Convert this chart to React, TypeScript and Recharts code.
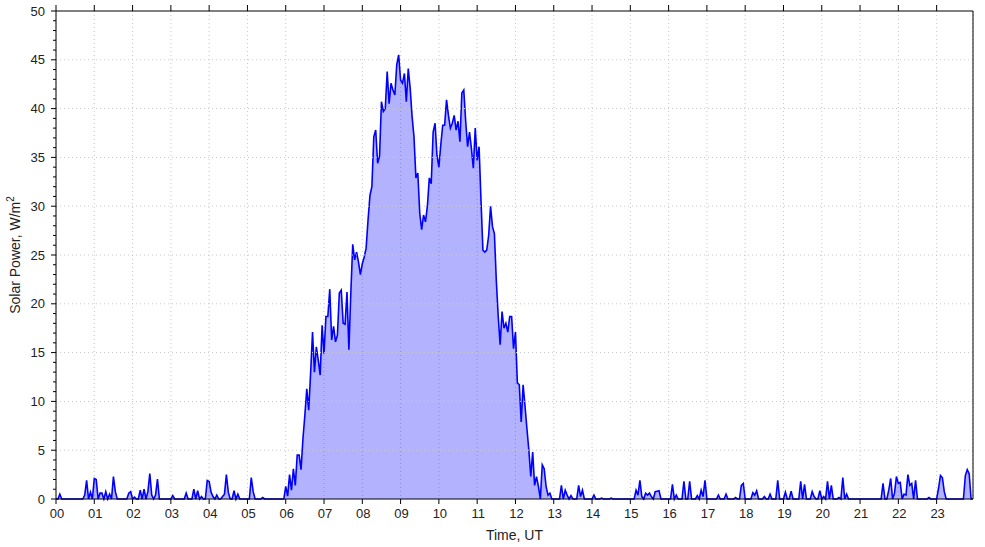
import { ComposedChart, Area, XAxis, YAxis, CartesianGrid, ReferenceLine } from "recharts"

// solar power (W/m2), sampled every 3 min, one array per UT hour
const ut00 = [0, 0, 0.5, 0, 0, 0, 0, 0, 0, 0, 0, 0, 0, 0, 0, 0.4, 1.9, 0, 0.7, 0]
const ut01 = [2.1, 2.0, 0, 0.6, 0.6, 0, 0.75, 0, 0.5, 0, 2.3, 0.75, 0, 0, 0, 0, 0, 0, 0.6, 0.75]
const ut02 = [0, 0.2, 0, 0, 0.9, 0, 1.0, 0, 0.75, 2.6, 0.4, 0, 0.4, 2.05, 0, 0, 0, 0, 0, 0]
const ut03 = [0, 0.35, 0, 0, 0, 0, 0, 0, 0.6, 0, 0, 0, 1.0, 0, 0.85, 0, 0.25, 0, 0, 1.9]
const ut04 = [1.8, 0.7, 0.25, 0, 0.4, 0, 0, 0.25, 0.5, 2.5, 0.7, 0, 0, 0.85, 0, 0.5, 0, 0, 0, 0]
const ut05 = [0, 0, 2.2, 0.75, 0, 0, 0, 0, 0.15, 0, 0, 0, 0, 0, 0, 0, 0, 0, 0, 0]
const ut06 = [1.3, 0.3, 2.5, 0.9, 3.1, 1.4, 4.5, 4.5, 3.0, 6.2, 8.6, 11.3, 9.1, 12.9, 17.1, 13.0, 15.6, 14.2, 12.7, 17.8]
const ut07 = [14.9, 18.7, 18.7, 21.5, 16.3, 17.7, 16.1, 16.8, 21.1, 21.4, 18.0, 17.9, 21.2, 15.3, 21.1, 26.1, 24.5, 25.3, 24.3, 23.0]
const ut08 = [24.1, 24.8, 25.7, 28.6, 31.1, 32.0, 37.1, 37.8, 34.4, 35.1, 40.7, 39.7, 40.0, 43.8, 40.5, 42.6, 41.9, 41.4, 44.5, 45.5]
const ut09 = [42.9, 42.6, 43.6, 40.7, 44.1, 42.1, 39.2, 37.1, 32.9, 33.4, 29.3, 27.6, 29.1, 28.4, 30.0, 32.9, 32.3, 37.6, 38.5, 35.2]
const ut10 = [34.0, 36.3, 38.3, 38.3, 40.9, 39.3, 38.0, 38.5, 39.3, 37.8, 38.7, 36.6, 41.6, 41.9, 38.7, 36.1, 37.6, 35.9, 33.9, 38.0]
const ut11 = [34.7, 36.1, 30.6, 25.5, 25.3, 25.5, 27.0, 30.0, 27.9, 27.2, 22.4, 18.7, 15.8, 19.2, 17.5, 18.0, 17.1, 18.7, 18.7, 15.4]
const ut12 = [17.1, 11.9, 11.7, 7.9, 11.7, 9.5, 7.2, 5.0, 2.3, 4.8, 1.4, 2.3, 1.3, 0, 3.5, 3.1, 1.3, 0.4, 0.6, 0]
const ut13 = [0, 0, 0, 0, 1.4, 0, 0.9, 0.4, 0, 0.35, 0, 0, 0, 1.4, 0.25, 0.9, 0, 0, 0, 0]
const ut14 = [0, 0.4, 0, 0, 0, 0.1, 0, 0, 0, 0, 0.1, 0, 0, 0, 0, 0, 0, 0, 0, 0]
const ut15 = [0, 0, 0, 0.9, 0.4, 1.9, 0.25, 0, 0.6, 0.4, 0.6, 0.25, 0, 0.75, 0.8, 0.85, 0, 0, 0, 0]
const ut16 = [0, 0, 1.5, 0, 0.4, 0, 0, 0, 1.8, 0, 0, 1.8, 0, 0, 0, 0.35, 0, 0.9, 0.25, 1.9]
const ut17 = [0, 0, 0, 0, 0, 0, 0.4, 0, 0, 0, 0.5, 0, 0, 0, 0, 0.15, 0, 0, 1.4, 1.6]
const ut18 = [0, 0, 0, 0, 0.65, 0.4, 0.85, 0, 0, 0, 0.25, 0, 0, 0.5, 0, 0, 0, 1.9, 0, 0]
const ut19 = [0, 0.7, 0, 0, 0.8, 0, 0, 0, 0, 1.8, 0, 1.5, 0, 0, 0, 0.75, 0.25, 0, 0, 0.85]
const ut20 = [0, 0.25, 0, 1.8, 0, 1.4, 0, 0, 0, 0.15, 0, 2.2, 0, 0.5, 0, 0, 0, 0, 0, 0]
const ut21 = [0, 0, 0, 0, 0, 0, 0, 0, 0, 0, 0, 0, 1.6, 0, 0, 0.9, 2.1, 0, 0.6, 2.3]
const ut22 = [1.6, 1.7, 0, 0.5, 0.4, 2.5, 1.4, 1.6, 0, 1.9, 0, 0, 0, 0, 0, 0, 0.15, 0, 0, 0]
const ut23 = [0, 1.1, 2.4, 2.2, 0.75, 0, 0, 0, 0, 0, 0, 0, 0, 0, 0, 2.4, 3.0, 2.6, 0, 0]

const hours = [
  ut00, ut01, ut02, ut03, ut04, ut05, ut06, ut07, ut08, ut09, ut10, ut11,
  ut12, ut13, ut14, ut15, ut16, ut17, ut18, ut19, ut20, ut21, ut22, ut23,
]

const hourTicks = Array.from({ length: 24 }, (_, i) => i)
const powerTicks = Array.from({ length: 51 }, (_, i) => i)
const gridLevels = [5, 10, 15, 20, 25, 30, 35, 40, 45]

const data = hours.flatMap((vals, h) => vals.map((v, i) => ({ t: h + i / 20, power: v })))

const FONT = "'Liberation Sans', Arial, sans-serif"

// y ticks: long ones every 5 with a label, short ones every 1
const PowerTick = ({ x, y, payload, side }: any) => {
  const major = payload.value % 5 === 0
  const dir = side === "left" ? -1 : 1
  return (
    <g>
      <line x1={x} x2={x + dir * (major ? 5 : 3)} y1={y} y2={y} stroke="#000" />
      {major && side === "left" && (
        <text x={x - 11} y={y} dy="0.35em" textAnchor="end" fontSize={13} fontFamily={FONT} fill="#222">
          {payload.value}
        </text>
      )}
    </g>
  )
}

const PowerLabel = ({ viewBox }: any) => {
  const cx = viewBox.x + 19.5
  const cy = viewBox.y + viewBox.height / 2
  return (
    <text x={cx} y={cy} transform={`rotate(-90 ${cx} ${cy})`} textAnchor="middle" fontSize={14} fontFamily={FONT} fill="#222">
      Solar Power, W/m<tspan dy={-6} fontSize={10}>2</tspan>
    </text>
  )
}

export default function App() {
  return (
    <div style={{ position: "absolute", left: 0, top: 0, width: 985, height: 547, background: "#fff" }}>
      <ComposedChart width={985} height={547} data={data} margin={{ top: 0, right: 0, bottom: 0, left: 0 }}>
        <CartesianGrid horizontal={false} stroke="#c8c8c8" strokeDasharray="1 3" xAxisId="bottom" yAxisId="left" />
        {gridLevels.map((v) => (
          <ReferenceLine key={v} y={v} xAxisId="bottom" yAxisId="left" stroke="#c8c8c8" strokeDasharray="1 3" />
        ))}
        <XAxis
          xAxisId="bottom"
          dataKey="t"
          type="number"
          domain={[0, 23.95]}
          ticks={hourTicks}
          interval={0}
          height={48}
          tickSize={5}
          tickMargin={5}
          axisLine={{ stroke: "#000" }}
          tickLine={{ stroke: "#000" }}
          tick={{ fontSize: 13, fontFamily: FONT, fill: "#222", dx: 1 }}
          tickFormatter={(v) => String(v).padStart(2, "0")}
          label={{ value: "Time, UT", position: "insideBottom", offset: 7, fontSize: 14, fontFamily: FONT, fill: "#222" }}
        />
        <XAxis
          xAxisId="top"
          orientation="top"
          dataKey="t"
          type="number"
          domain={[0, 23.95]}
          ticks={hourTicks}
          interval={0}
          height={11}
          tickSize={6}
          axisLine={{ stroke: "#000" }}
          tickLine={{ stroke: "#000" }}
          tickFormatter={() => ""}
        />
        <YAxis
          yAxisId="left"
          domain={[0, 50]}
          ticks={powerTicks}
          interval={0}
          width={56}
          tickSize={0}
          tickMargin={0}
          tickLine={false}
          axisLine={{ stroke: "#000" }}
          tick={<PowerTick side="left" />}
          label={<PowerLabel />}
        />
        <YAxis
          yAxisId="right"
          orientation="right"
          domain={[0, 50]}
          ticks={powerTicks}
          interval={0}
          width={12}
          tickSize={0}
          tickMargin={0}
          tickLine={false}
          axisLine={{ stroke: "#000" }}
          tick={<PowerTick side="right" />}
        />
        <Area
          xAxisId="bottom"
          yAxisId="left"
          type="linear"
          dataKey="power"
          stroke="#0000ff"
          strokeWidth={1.6}
          fill="#0000ff"
          fillOpacity={0.3}
          dot={false}
          activeDot={false}
          isAnimationActive={false}
        />
      </ComposedChart>
    </div>
  )
}
